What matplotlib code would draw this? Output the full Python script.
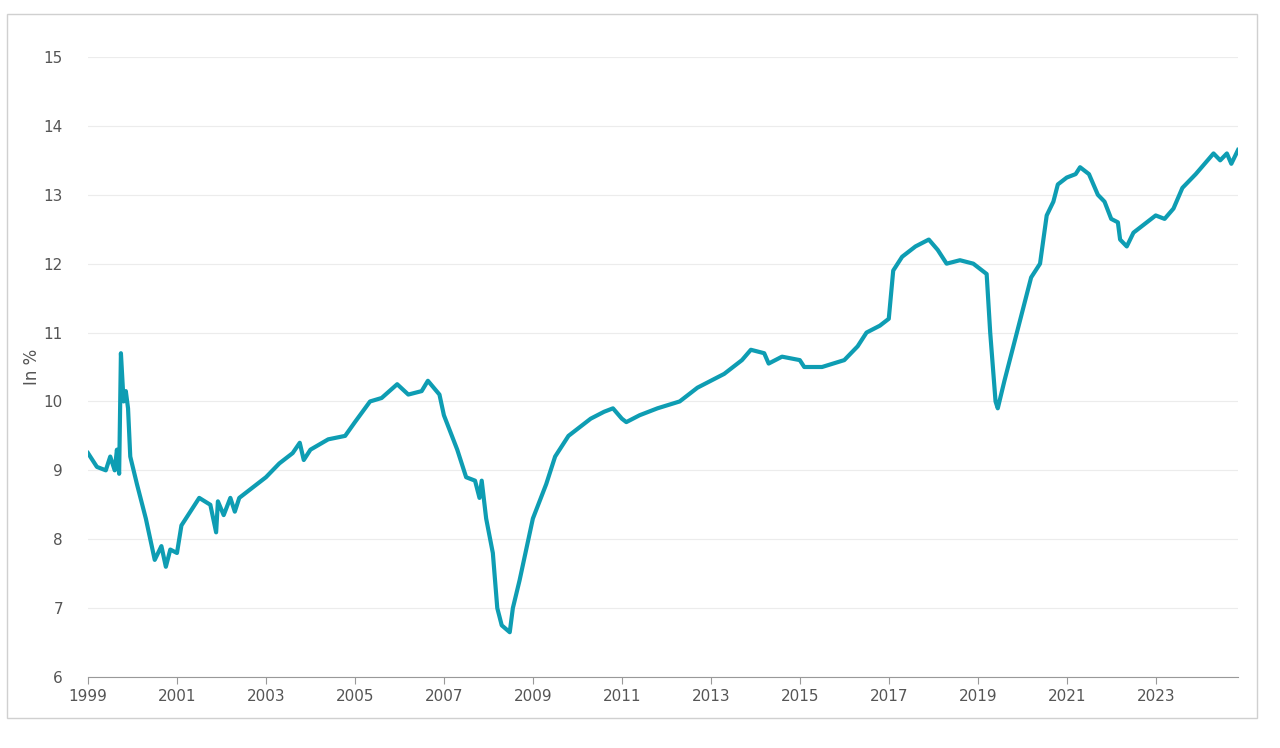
import matplotlib
matplotlib.use("Agg")
import matplotlib.pyplot as plt
from matplotlib.patches import Rectangle

years = [1999.0,1999.2,1999.4,1999.5,1999.6,1999.65,1999.7,1999.74,1999.8,1999.85,1999.9,1999.95,2000.1,2000.3,2000.5,2000.65,2000.75,2000.85,2001.0,2001.1,2001.3,2001.5,2001.75,2001.88,2001.92,2002.05,2002.2,2002.3,2002.4,2002.6,2003.0,2003.3,2003.6,2003.76,2003.85,2004.0,2004.4,2004.78,2005.0,2005.34,2005.6,2005.95,2006.2,2006.5,2006.64,2006.9,2007.0,2007.3,2007.5,2007.7,2007.8,2007.85,2007.95,2008.1,2008.2,2008.3,2008.48,2008.55,2008.7,2008.9,2009.0,2009.3,2009.5,2009.8,2010.0,2010.3,2010.6,2010.8,2011.0,2011.1,2011.4,2011.8,2012.3,2012.7,2013.3,2013.7,2013.9,2014.2,2014.3,2014.6,2015.0,2015.1,2015.5,2016.0,2016.3,2016.5,2016.8,2017.0,2017.1,2017.3,2017.6,2017.9,2018.1,2018.3,2018.6,2018.9,2019.1,2019.2,2019.28,2019.4,2019.45,2019.6,2019.8,2020.0,2020.2,2020.4,2020.55,2020.7,2020.8,2021.0,2021.2,2021.3,2021.5,2021.7,2021.85,2022.0,2022.15,2022.2,2022.35,2022.5,2022.7,2023.0,2023.2,2023.4,2023.6,2023.9,2024.1,2024.3,2024.45,2024.6,2024.7,2024.85]
values = [9.25,9.05,9.0,9.2,9.0,9.3,8.95,10.7,10.0,10.15,9.9,9.2,8.8,8.3,7.7,7.9,7.6,7.85,7.8,8.2,8.4,8.6,8.5,8.1,8.55,8.35,8.6,8.4,8.6,8.7,8.9,9.1,9.25,9.4,9.15,9.3,9.45,9.5,9.7,10.0,10.05,10.25,10.1,10.15,10.3,10.1,9.8,9.3,8.9,8.85,8.6,8.85,8.3,7.8,7.0,6.75,6.65,7.0,7.4,8.0,8.3,8.8,9.2,9.5,9.6,9.75,9.85,9.9,9.75,9.7,9.8,9.9,10.0,10.2,10.4,10.6,10.75,10.7,10.55,10.65,10.6,10.5,10.5,10.6,10.8,11.0,11.1,11.2,11.9,12.1,12.25,12.35,12.2,12.0,12.05,12.0,11.9,11.85,11.0,10.0,9.9,10.3,10.8,11.3,11.8,12.0,12.7,12.9,13.15,13.25,13.3,13.4,13.3,13.0,12.9,12.65,12.6,12.35,12.25,12.45,12.55,12.7,12.65,12.8,13.1,13.3,13.45,13.6,13.5,13.6,13.45,13.65]
xticks = list(range(1999, 2025, 2))
yticks = list(range(6, 16))

fig = plt.figure(figsize=(12.8, 7.48), dpi=100)
fig.patches.append(Rectangle((7/1280, 1-718/748), 1250/1280, 704/748, transform=fig.transFigure,
                             fill=False, edgecolor="#d0d0d0", linewidth=1))
ax = fig.add_axes([88/1280, 1-677/748, (1238-88)/1280, (677-57)/748])
ax.plot(years, values, color="#0e9db3", linewidth=3)
ax.set_xlim(1999, 2024.85)
ax.set_ylim(6, 15)
ax.set_xticks(xticks)
ax.set_yticks(yticks)
ax.grid(axis="y", color="#ececec", linewidth=0.8)
ax.set_axisbelow(True)
for s in ["top", "right", "left"]:
    ax.spines[s].set_visible(False)
ax.spines["bottom"].set_color("#999999")
ax.tick_params(axis="y", length=0, labelsize=11, labelcolor="#555555", pad=18)
ax.tick_params(axis="x", length=5, color="#999999", labelsize=11, labelcolor="#555555")
ax.set_ylabel("In %", fontsize=12, color="#555555", labelpad=2)
fig.savefig("out.png")
